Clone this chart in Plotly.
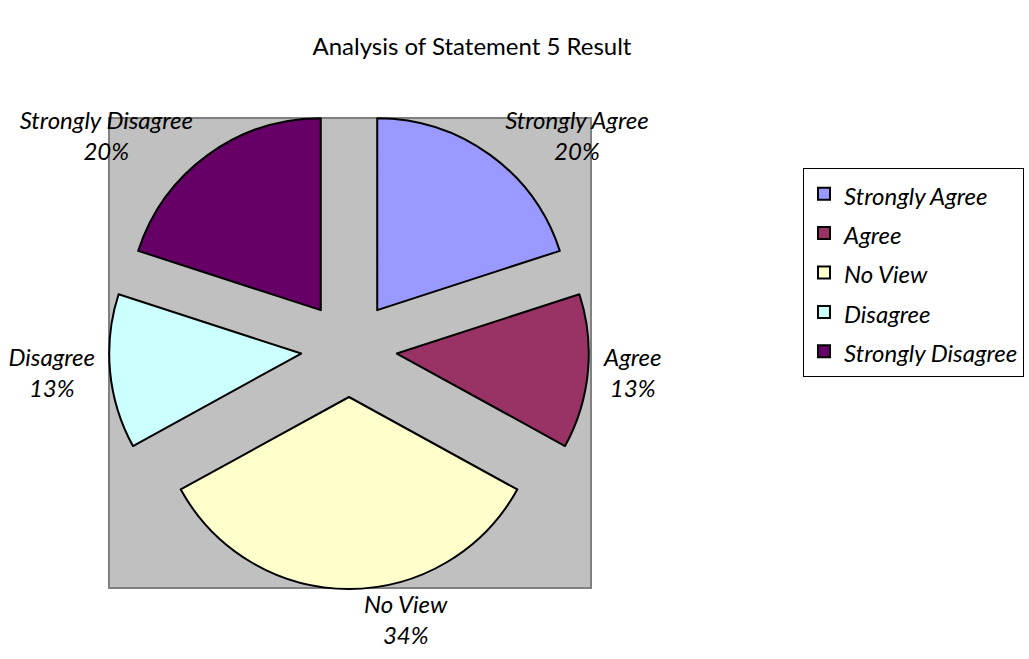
import plotly.graph_objects as go

categories = ["Strongly Agree", "Agree", "No View", "Disagree", "Strongly Disagree"]
percentages = [20, 13, 34, 13, 20]
colors = ["#9999FF", "#993366", "#FFFFCC", "#CCFFFF", "#660066"]
title_text = "Analysis of Statement 5 Result"

W, H = 1029, 659
FONT = "Lato"
TXT = 24

legend_labels = ['<span style="font-size:%dpx">%s</span>' % (TXT, c) for c in categories]
slice_text = ["%s<br>%d%%" % (c, p) for c, p in zip(categories, percentages)]

fig = go.Figure()
fig.add_trace(go.Pie(
    labels=legend_labels,
    values=percentages,
    text=slice_text,
    sort=False,
    direction="clockwise",
    rotation=0,
    pull=[0.25] * len(percentages),
    marker=dict(colors=colors, line=dict(color="black", width=2)),
    textinfo="text",
    textposition="outside",
    outsidetextfont=dict(family=FONT, size=TXT, color="black", style="italic"),
    hoverinfo="skip",
    automargin=False,
    domain=dict(x=[109 / W, 589 / W], y=[70 / H, 550 / H]),
))

fig.add_shape(type="rect", xref="paper", yref="paper",
              x0=109 / W, x1=591 / W, y0=71 / H, y1=541 / H,
              fillcolor="#C0C0C0", line=dict(color="#808080", width=2), layer="below")

fig.update_layout(
    width=W, height=H,
    margin=dict(l=0, r=0, t=0, b=0, autoexpand=False),
    paper_bgcolor="white",
    title=dict(text=title_text, x=472 / W, xanchor="center", y=(H - 47) / H, yanchor="middle",
               font=dict(family=FONT, size=TXT, color="black")),
    legend=dict(x=803 / W, y=(H - 168) / H, xanchor="left", yanchor="top",
                bordercolor="black", borderwidth=1, bgcolor="white",
                font=dict(family=FONT, size=28, color="black", style="italic"),
                traceorder="normal"),
    showlegend=True,
)

fig.write_html("out.html", config={"displayModeBar": False},
               post_script="document.body.style.margin='0px';")
